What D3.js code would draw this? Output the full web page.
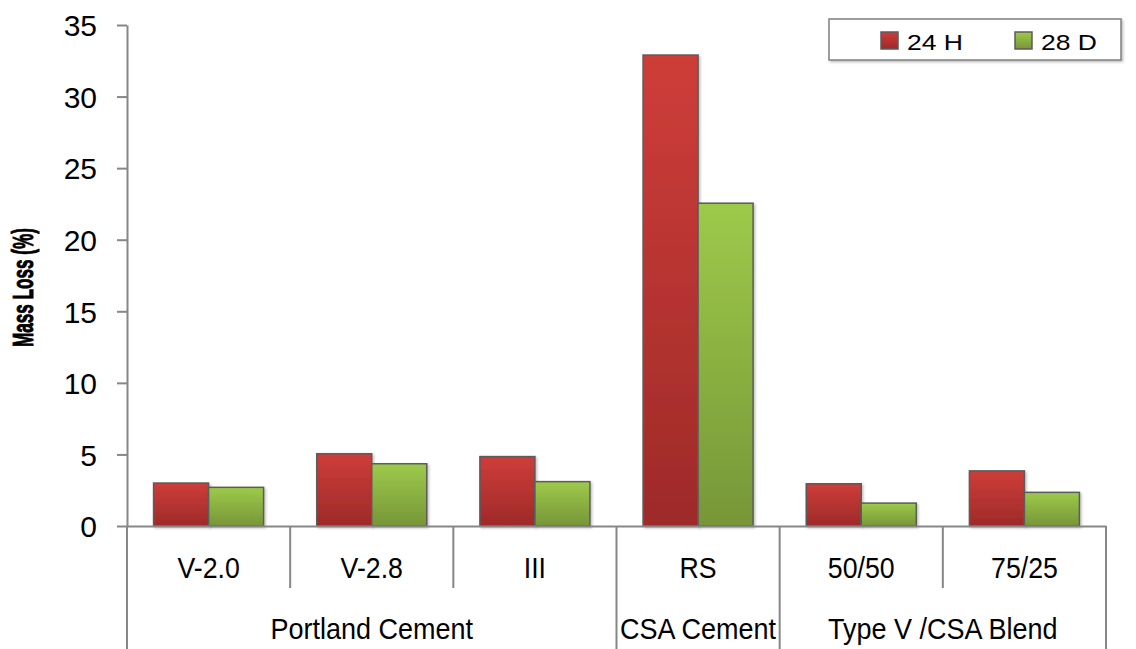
<!DOCTYPE html>
<html>
<head>
<meta charset="utf-8">
<script src="https://cdn.jsdelivr.net/npm/d3@7"></script>
<style>
  html, body { margin: 0; padding: 0; background: #fff; }
  svg { display: block; }
  text { font-family: "Liberation Sans", Arial, sans-serif; fill: #000; }
</style>
</head>
<body>
<svg id="chart" width="1136" height="649"></svg>
<script>
// ---- data ----
const categories = ["V-2.0", "V-2.8", "III", "RS", "50/50", "75/25"];
const categoryGroups = ["Portland Cement", "Portland Cement", "Portland Cement", "CSA Cement", "Type V /CSA Blend", "Type V /CSA Blend"];
const groups = ["Portland Cement", "CSA Cement", "Type V /CSA Blend"];
const seriesNames = ["24 H", "28 D"];
const values24H = [3.0, 5.05, 4.85, 32.9, 2.95, 3.85];
const values28D = [2.7, 4.35, 3.1, 22.55, 1.6, 2.35];
const yTicks = [0, 5, 10, 15, 20, 25, 30, 35];

const svg = d3.select("#chart");
const plotLeft = 127, plotRight = 1106, plotTop = 25, plotBase = 526, plotBottom = 649;

const x = d3.scaleBand().domain(categories).range([plotLeft, plotRight]).paddingInner(0).paddingOuter(0);
const xs = d3.scaleBand().domain(seriesNames).range([0, x.bandwidth()]).paddingInner(0).paddingOuter(0.483);
const y = d3.scaleLinear().domain([0, 35]).range([plotBase, plotTop]);

// gradients
const defs = svg.append("defs");
const grads = [
  { id: "gRed", top: "#ce3d39", bot: "#9e2a29" },
  { id: "gGreen", top: "#9dca4a", bot: "#779638" }
];
grads.forEach(g => {
  const lgd = defs.append("linearGradient").attr("id", g.id).attr("x1", 0).attr("y1", 0).attr("x2", 0).attr("y2", 1);
  lgd.append("stop").attr("offset", "0%").attr("stop-color", g.top);
  lgd.append("stop").attr("offset", "100%").attr("stop-color", g.bot);
});
const sh = defs.append("filter").attr("id", "shadow").attr("x", "-10%").attr("y", "-10%").attr("width", "130%").attr("height", "130%");
sh.append("feDropShadow").attr("dx", 1.5).attr("dy", 1.5).attr("stdDeviation", 1.2).attr("flood-color", "#000").attr("flood-opacity", 0.25);

const fills = { "24 H": "url(#gRed)", "28 D": "url(#gGreen)" };

const rows = categories.map((c, i) => ({ cat: c, vals: [
  { s: "24 H", v: values24H[i] },
  { s: "28 D", v: values28D[i] }
]}));

// bars
const gBars = svg.append("g");
rows.forEach(r => {
  gBars.selectAll(null).data(r.vals).enter().append("rect")
    .attr("x", d => x(r.cat) + xs(d.s))
    .attr("y", d => y(d.v))
    .attr("width", xs.bandwidth())
    .attr("height", d => y(0) - y(d.v))
    .attr("fill", d => fills[d.s])
    .attr("stroke", "#5b5b5b")
    .attr("stroke-width", 1.5)
    .attr("filter", "url(#shadow)");
});

const axisColor = "#878787";

// y axis
const yAxis = svg.append("g").attr("transform", `translate(${plotLeft},0)`)
  .call(d3.axisLeft(y).tickValues(yTicks).tickSize(10).tickPadding(20).tickSizeOuter(0));
yAxis.select(".domain").attr("stroke", axisColor).attr("stroke-width", 2);
yAxis.selectAll(".tick line").attr("stroke", axisColor).attr("stroke-width", 2);
yAxis.selectAll(".tick text").attr("font-size", 30).attr("font-family", "Liberation Sans, Arial, sans-serif").attr("fill", "#000").attr("dy", "0.36em");
svg.append("line").attr("x1", plotLeft).attr("x2", plotLeft).attr("y1", plotBase).attr("y2", plotBottom)
  .attr("stroke", axisColor).attr("stroke-width", 2);

// x axis
const xAxis = svg.append("g").attr("transform", `translate(0,${plotBase})`)
  .call(d3.axisBottom(x).tickSize(0).tickPadding(0).tickSizeOuter(0));
xAxis.select(".domain").attr("stroke", axisColor).attr("stroke-width", 2);
xAxis.selectAll(".tick text").attr("font-size", 30).attr("font-family", "Liberation Sans, Arial, sans-serif")
  .attr("fill", "#000").attr("dy", 0).attr("y", 52).attr("transform", "scale(0.89,1)");

// category dividers
const boundaries = d3.range(1, categories.length + 1).map(i => ({
  xPos: i < categories.length ? x(categories[i]) : plotRight,
  long: i === categories.length || categoryGroups[i] !== categoryGroups[i - 1]
}));
svg.append("g").selectAll("line").data(boundaries).enter().append("line")
  .attr("x1", d => d.xPos).attr("x2", d => d.xPos)
  .attr("y1", plotBase).attr("y2", d => d.long ? plotBottom : 588)
  .attr("stroke", axisColor).attr("stroke-width", 2);

// group labels
const groupSpans = groups.map(g => {
  const cats = categories.filter((c, i) => categoryGroups[i] === g);
  return { g, x0: x(cats[0]), x1: x(cats[cats.length - 1]) + x.bandwidth() };
});
svg.append("g").selectAll("text").data(groupSpans).enter().append("text")
  .attr("transform", d => `translate(${(d.x0 + d.x1) / 2},639) scale(0.9,1)`)
  .attr("text-anchor", "middle").attr("font-size", 30)
  .text(d => d.g);

// y axis title
const yTitle = svg.append("text")
  .attr("text-anchor", "middle")
  .attr("font-family", "Liberation Sans Narrow, Liberation Sans, Arial, sans-serif")
  .attr("font-weight", "bold").attr("font-size", 29)
  .attr("stroke", "#000").attr("stroke-width", 0.9)
  .text("Mass Loss (%)");
const titleLen = yTitle.node().getComputedTextLength();
const titleScale = titleLen > 0 ? 119 / titleLen : 0.6;
yTitle.attr("transform", `translate(33,${(228 + 347) / 2}) rotate(-90) scale(${titleScale},1)`);

// legend
const legendG = svg.append("g");
legendG.append("rect").attr("x", 829).attr("y", 19).attr("width", 292).attr("height", 41)
  .attr("fill", "#fff").attr("stroke", "#7f7f7f").attr("stroke-width", 1.5)
  .attr("filter", "url(#shadow)");
const legendX = d3.scalePoint().domain(seriesNames).range([881, 1015]);
const items = legendG.selectAll("g.item").data(seriesNames).enter().append("g").attr("class", "item");
items.append("rect").attr("x", d => legendX(d)).attr("y", 32).attr("width", 17).attr("height", 17)
  .attr("fill", d => fills[d]).attr("stroke", "#5b5b5b").attr("stroke-width", 1.5);
items.append("text").attr("x", d => legendX(d) + 26).attr("y", 50)
  .attr("font-size", 22).attr("textLength", 56).attr("lengthAdjust", "spacingAndGlyphs")
  .text(d => d);
</script>
</body>
</html>
